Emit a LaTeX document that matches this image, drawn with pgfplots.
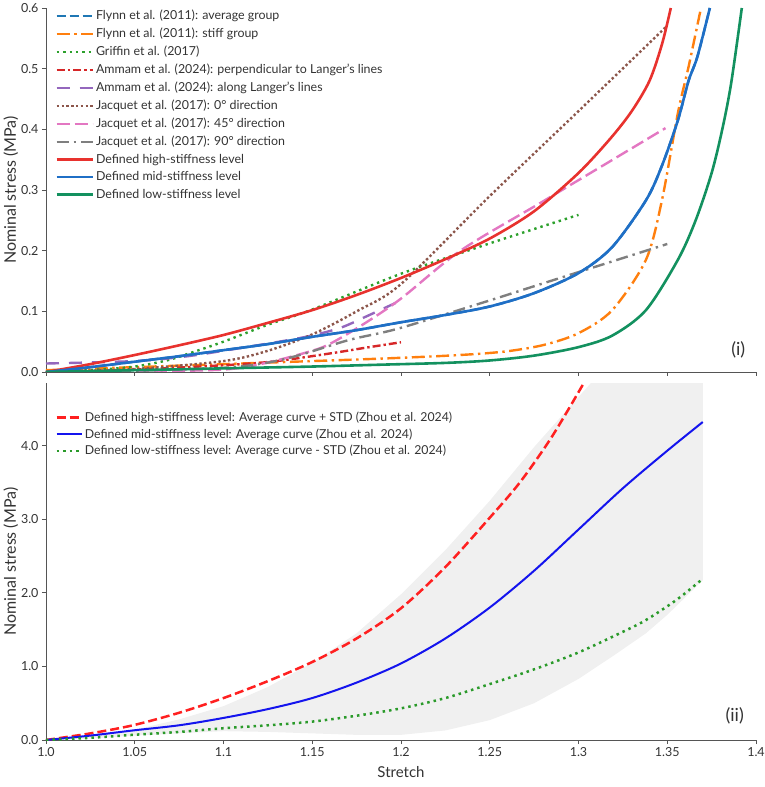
\documentclass[border=0pt]{standalone}
\usepackage{fontspec}
\setmainfont{Lato}
\usepackage{pgfplots}
\pgfplotsset{compat=1.18}
\definecolor{tBlue}{HTML}{1F77B4}
\definecolor{tOrange}{HTML}{FF7F0E}
\definecolor{tGreen}{HTML}{2CA02C}
\definecolor{tRed}{HTML}{D62728}
\definecolor{tPurple}{HTML}{9467BD}
\definecolor{tBrown}{HTML}{8C564B}
\definecolor{tPink}{HTML}{E377C2}
\definecolor{tGray}{HTML}{7F7F7F}
\definecolor{dHigh}{HTML}{E8322E}
\definecolor{dMid}{HTML}{1F6FC6}
\definecolor{dLow}{HTML}{13915F}
\definecolor{bRed}{HTML}{FF2020}
\definecolor{bBlue}{HTML}{1414EE}
\definecolor{bGreen}{HTML}{2A9A2A}
\definecolor{spine}{HTML}{555555}
\definecolor{band}{HTML}{F0F0F0}
\pgfplotsset{
  common/.style={
    scale only axis, width=710pt, xmin=1, xmax=1.4,
    axis x line*=bottom, axis y line*=left,
    axis line style={spine, line width=0.9pt},
    tick align=outside, major tick length=4pt,
    tick style={spine, line width=0.9pt},
    xtick={1,1.05,...,1.4},
    tick label style={font=\fontsize{12.5}{14}\selectfont, text=black!80},
    ylabel={Nominal stress (MPa)},
    ylabel style={font=\fontsize{16}{18}\selectfont, text=black!80},
    ylabel shift=-4pt,
    legend cell align=left,
    every axis plot/.append style={smooth, tension=0.5},
  },
}
\begin{document}
\begin{tikzpicture}
\useasboundingbox (0pt,0pt) rectangle (764pt,-787pt);
% ---------- Top panel ----------
\begin{axis}[common, at={(46pt,-8pt)}, anchor=north west, height=364pt,
  ymin=0, ymax=0.6, ytick={0,0.1,...,0.6},
  yticklabels={0.0,0.1,0.2,0.3,0.4,0.5,0.6}, xticklabels={},
  legend style={at={(axis description cs:0.013,1.0)}, anchor=north west, draw=none, fill=none,
    font=\fontsize{12.4}{14}\selectfont, row sep=2.9pt, inner sep=0pt,
    nodes={text=black!80}},
  legend image code/.code={\draw[#1, sharp plot] (0pt,0pt) -- (36pt,0pt);},
]
\addplot[tBlue, line width=2.4pt, dash pattern=on 9pt off 4pt] coordinates {
(1,0) (1.025,0.008) (1.05,0.017) (1.075,0.026) (1.1,0.036) (1.125,0.046) (1.15,0.058) (1.175,0.069) (1.2,0.082) (1.225,0.094) (1.25,0.108) (1.275,0.13) (1.3,0.163) (1.319,0.206) (1.338,0.283) (1.347,0.34) (1.356,0.415) (1.362,0.48) (1.367,0.52) (1.374,0.6)};
\addlegendentry{Flynn et al. (2011): average group}
\addplot[tOrange, line width=2.4pt, dash pattern=on 13pt off 4.5pt on 2.4pt off 4.5pt] coordinates {
(1.0,0.003) (1.05,0.008) (1.1,0.013) (1.15,0.018) (1.188,0.022) (1.22,0.026) (1.244,0.030) (1.262,0.035) (1.281,0.045) (1.3,0.064) (1.319,0.102) (1.338,0.185) (1.347,0.283) (1.356,0.427) (1.362,0.503) (1.369,0.6)};
\addlegendentry{Flynn et al. (2011): stiff group}
\addplot[tGreen, line width=2.4pt, dash pattern=on 2.4pt off 4pt] coordinates {
(1.0,0) (1.03,0.004) (1.05,0.009) (1.068,0.019) (1.081,0.031) (1.1,0.05) (1.125,0.078) (1.15,0.103) (1.2,0.162) (1.25,0.212) (1.3,0.259)};
\addlegendentry{Griffin et al. (2017)}
\addplot[tRed, line width=2.4pt, dash pattern=on 8pt off 3pt on 2.4pt off 3pt] coordinates {
(1.0,0.0) (1.05,0.004) (1.105,0.012) (1.13,0.018) (1.161,0.031) (1.18,0.04) (1.2,0.049)};
\addlegendentry{Ammam et al. (2024): perpendicular to Langer's lines}
\addplot[tPurple, line width=2.4pt, dash pattern=on 13pt off 10pt] coordinates {
(1.0,0.014) (1.05,0.018) (1.077,0.025) (1.1,0.035) (1.143,0.056) (1.165,0.072) (1.18,0.091) (1.2,0.118)};
\addlegendentry{Ammam et al. (2024): along Langer's lines}
\addplot[tBrown, line width=2.4pt, dash pattern=on 2.4pt off 2.4pt] coordinates {
(1.0,0.0) (1.05,0.005) (1.1,0.018) (1.125,0.035) (1.15,0.062) (1.175,0.1) (1.2,0.145) (1.25,0.29) (1.3,0.43) (1.349,0.568)};
\addlegendentry{Jacquet et al. (2017): 0° direction}
\addplot[tPink, line width=2.4pt, dash pattern=on 13pt off 5pt] coordinates {
(1.0,0.0) (1.05,0.001) (1.1,0.004) (1.124,0.015) (1.15,0.035) (1.161,0.048) (1.18,0.081) (1.2,0.121) (1.234,0.201) (1.281,0.283) (1.349,0.402)};
\addlegendentry{Jacquet et al. (2017): 45° direction}
\addplot[tGray, line width=2.4pt, dash pattern=on 12pt off 5pt on 2.4pt off 5pt] coordinates {
(1.0,0.0) (1.05,0.002) (1.1,0.007) (1.124,0.015) (1.143,0.028) (1.171,0.053) (1.199,0.072) (1.25,0.118) (1.281,0.147) (1.35,0.211)};
\addlegendentry{Jacquet et al. (2017): 90° direction}
\addplot[dHigh, line width=2.6pt] coordinates {
(1,0) (1.025,0.013) (1.05,0.028) (1.075,0.044) (1.1,0.061) (1.125,0.081) (1.15,0.102) (1.175,0.127) (1.2,0.155) (1.225,0.186) (1.25,0.22) (1.275,0.265) (1.3,0.328) (1.318,0.385) (1.33,0.43) (1.34,0.48) (1.347,0.54) (1.352,0.6)};
\addlegendentry{Defined high-stiffness level}
\addplot[dMid, line width=2.6pt] coordinates {
(1,0) (1.025,0.008) (1.05,0.017) (1.075,0.026) (1.1,0.036) (1.125,0.046) (1.15,0.058) (1.175,0.069) (1.2,0.082) (1.225,0.094) (1.25,0.108) (1.275,0.13) (1.3,0.163) (1.319,0.206) (1.338,0.283) (1.347,0.34) (1.356,0.415) (1.362,0.48) (1.367,0.52) (1.374,0.6)};
\addlegendentry{Defined mid-stiffness level}
\addplot[dLow, line width=2.6pt] coordinates {
(1,0) (1.05,0.003) (1.1,0.006) (1.15,0.009) (1.188,0.012) (1.225,0.015) (1.25,0.019) (1.275,0.027) (1.3,0.041) (1.319,0.06) (1.338,0.102) (1.356,0.185) (1.366,0.25) (1.375,0.328) (1.381,0.4) (1.386,0.476) (1.392,0.6)};
\addlegendentry{Defined low-stiffness level}
\node[font=\fontsize{18}{20}\selectfont, text=black!80] at (axis cs:1.39,0.036) {(i)};
\end{axis}
% ---------- Bottom panel ----------
\begin{axis}[common, at={(46pt,-383pt)}, anchor=north west, height=357pt,
  ymin=0, ymax=4.85, ytick={0,1,2,3,4},
  yticklabels={0.0,1.0,2.0,3.0,4.0},
  xticklabels={1.0,1.05,1.1,1.15,1.2,1.25,1.3,1.35,1.4},
  xlabel={Stretch}, xlabel style={font=\fontsize{15}{17}\selectfont, text=black!80, yshift=-3pt},
  legend style={at={(axis description cs:0.013,0.925)}, anchor=north west, draw=none, fill=none,
    font=\fontsize{12.3}{14}\selectfont, row sep=1.6pt, inner sep=0pt,
    nodes={text=black!80}},
  legend image code/.code={\draw[#1, sharp plot] (0pt,0pt) -- (25pt,0pt);},
]
\addplot[fill=band, draw=none, forget plot, sharp plot] coordinates {
(1.0,0) (1.05,0.14) (1.075,0.28) (1.1,0.46) (1.125,0.72) (1.15,1.05) (1.175,1.45) (1.2,1.98) (1.225,2.58) (1.25,3.25) (1.275,3.98) (1.307,4.85) (1.37,4.85)
(1.37,2.17) (1.35,1.7) (1.338,1.45) (1.32,1.15) (1.3,0.83) (1.275,0.5) (1.25,0.27) (1.225,0.13) (1.2,0.07) (1.175,0.07) (1.15,0.09) (1.125,0.11) (1.1,0.12) (1.075,0.09) (1.05,0.06) (1.025,0.02) (1.0,0)} -- cycle;
\addplot[bRed, line width=2.5pt, dash pattern=on 9pt off 4pt] coordinates {
(1.0,0) (1.025,0.09) (1.049,0.20) (1.075,0.37) (1.1,0.57) (1.125,0.8) (1.15,1.06) (1.175,1.38) (1.2,1.79) (1.225,2.35) (1.25,3.02) (1.267,3.5) (1.285,4.12) (1.303,4.85)};
\addlegendentry{Defined high-stiffness level: Average curve + STD (Zhou et al. 2024)}
\addplot[bBlue, line width=2pt] coordinates {
(1.0,0) (1.025,0.06) (1.049,0.13) (1.075,0.2) (1.1,0.30) (1.125,0.42) (1.15,0.57) (1.175,0.78) (1.2,1.04) (1.225,1.38) (1.25,1.8) (1.275,2.3) (1.3,2.86) (1.325,3.42) (1.35,3.93) (1.37,4.32)};
\addlegendentry{Defined mid-stiffness level: Average curve (Zhou et al. 2024)}
\addplot[bGreen, line width=2.5pt, dash pattern=on 2.5pt off 4pt] coordinates {
(1.0,0) (1.025,0.03) (1.049,0.07) (1.075,0.11) (1.1,0.16) (1.125,0.2) (1.15,0.25) (1.175,0.33) (1.2,0.43) (1.225,0.57) (1.25,0.76) (1.275,0.96) (1.3,1.19) (1.325,1.47) (1.338,1.63) (1.355,1.9) (1.369,2.17)};
\addlegendentry{Defined low-stiffness level: Average curve - STD (Zhou et al. 2024)}
\node[font=\fontsize{18}{20}\selectfont, text=black!80] at (axis cs:1.388,0.33) {(ii)};
\end{axis}
\end{tikzpicture}
\end{document}
